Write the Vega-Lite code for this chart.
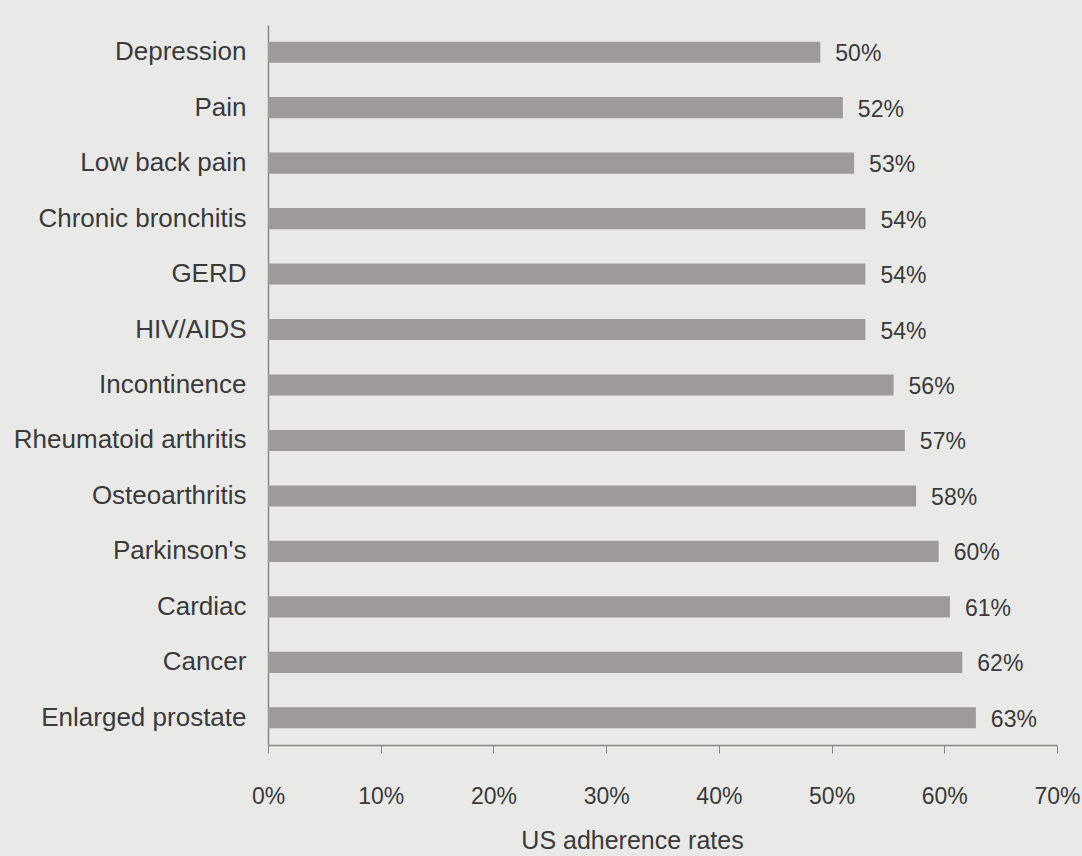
{
  "$schema": "https://vega.github.io/schema/vega-lite/v6.json",
  "autosize": {"type": "none"},
  "width": 789,
  "height": 720,
  "padding": {"left": 268, "top": 25, "right": 25, "bottom": 111},
  "background": "#e9e9e8",
  "config": {
    "view": {"stroke": null},
    "font": "Liberation Sans",
    "axis": {"labelFont": "Liberation Sans", "titleFont": "Liberation Sans", "labelColor": "#3a3a3a", "titleColor": "#3a3a3a", "domainColor": "#888888", "tickColor": "#888888", "grid": false}
  },
  "data": {
    "values": [
      {"condition": "Depression", "rate": 0.49, "label": "50%"},
      {"condition": "Pain", "rate": 0.51, "label": "52%"},
      {"condition": "Low back pain", "rate": 0.52, "label": "53%"},
      {"condition": "Chronic bronchitis", "rate": 0.53, "label": "54%"},
      {"condition": "GERD", "rate": 0.53, "label": "54%"},
      {"condition": "HIV/AIDS", "rate": 0.53, "label": "54%"},
      {"condition": "Incontinence", "rate": 0.555, "label": "56%"},
      {"condition": "Rheumatoid arthritis", "rate": 0.565, "label": "57%"},
      {"condition": "Osteoarthritis", "rate": 0.575, "label": "58%"},
      {"condition": "Parkinson's", "rate": 0.595, "label": "60%"},
      {"condition": "Cardiac", "rate": 0.605, "label": "61%"},
      {"condition": "Cancer", "rate": 0.616, "label": "62%"},
      {"condition": "Enlarged prostate", "rate": 0.628, "label": "63%"}
    ]
  },
  "encoding": {
    "y": {
      "field": "condition", "type": "nominal", "sort": null,
      "scale": {"paddingInner": 0.62, "paddingOuter": 0.3},
      "axis": {"title": null, "ticks": false, "labelFontSize": 26, "labelLimit": 0, "labelPadding": 22, "domainWidth": 1.5}
    },
    "x": {
      "field": "rate", "type": "quantitative",
      "scale": {"domain": [0, 0.7], "nice": false},
      "axis": {"format": ".0%", "values": [0, 0.1, 0.2, 0.3, 0.4, 0.5, 0.6, 0.7], "labelFontSize": 23, "labelFlush": false, "labelPadding": 32, "tickSize": 8, "domainWidth": 1.5, "title": "US adherence rates", "titleFontSize": 25, "titleFontWeight": "normal", "titlePadding": 20, "titleX": 364}
    }
  },
  "layer": [
    {"mark": {"type": "bar", "color": "#9e9a99"}},
    {
      "mark": {"type": "text", "align": "left", "dx": 15, "dy": 2, "fontSize": 23, "color": "#3a3a3a"},
      "encoding": {"text": {"field": "label", "type": "nominal"}}
    }
  ]
}
